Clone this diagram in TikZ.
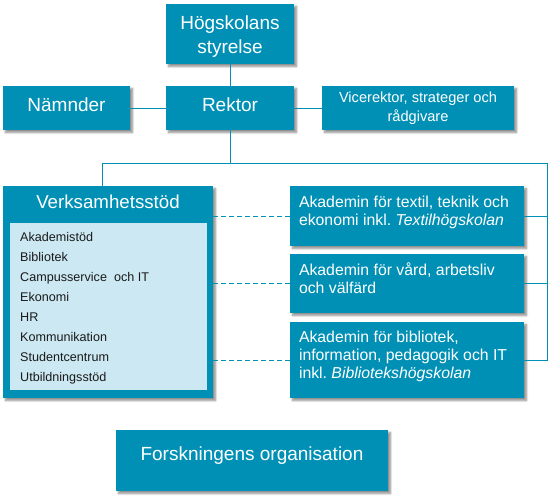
\documentclass[tikz,border=0pt]{standalone}
\usepackage{fontspec}
\setmainfont{Liberation Sans}
\usetikzlibrary{shadows.blur}
\definecolor{tealc}{HTML}{0090B5}
\definecolor{lightb}{HTML}{CCE8F2}
\definecolor{darktext}{HTML}{1A1A1A}
\tikzset{
  box/.style={fill=tealc, draw=none, inner sep=0pt, text=white, align=center,
    blur shadow={shadow xshift=2.5pt, shadow yshift=-2.5pt, shadow blur steps=6, shadow opacity=45}},
  conn/.style={draw=tealc, line width=0.9pt},
  dconn/.style={conn, dash pattern=on 5pt off 3pt},
  bigtxt/.style={font=\fontsize{19}{24}\selectfont},
  midtxt/.style={font=\fontsize{15.8}{18}\selectfont},
  vicetxt/.style={font=\fontsize{14.6}{19}\selectfont},
  itemtxt/.style={font=\fontsize{12.6}{15}\selectfont, text=darktext, inner sep=0pt},
  akatxt/.style={midtxt, text=white, align=left, inner sep=0pt},
  plaintxt/.style={text=white, inner sep=0pt, align=center}
}
\begin{document}
\begin{tikzpicture}[x=1pt,y=-1pt]
\useasboundingbox (0,0) rectangle (556,500);

% top boxes
\node[box, minimum width=128pt, minimum height=60pt] (sty) at (230,34) {};
\node[plaintxt, bigtxt] (styt) at (230,37) {Högskolans\\styrelse};
\node[box, minimum width=127pt, minimum height=44pt] (nam) at (66.5,108) {};
\node[plaintxt, bigtxt, anchor=base] (namt) at (66.5,112) {Nämnder};
\node[box, minimum width=128pt, minimum height=44pt] (rek) at (230,108) {};
\node[plaintxt, bigtxt, anchor=base] (rekt) at (230,112) {Rektor};
\node[box, vicetxt, minimum width=192pt, minimum height=44pt] (vic) at (418,108) {Vicerektor, strateger och\\rådgivare};

% Verksamhetsstöd
\node[box, minimum width=210pt, minimum height=212pt] (verk) at (108,292) {};
\node[fill=lightb, inner sep=0pt, minimum width=197pt, minimum height=167pt] (inner) at (108.5,306.5) {};
\node[anchor=base, text=white, inner sep=0pt, font=\fontsize{18.7}{22}\selectfont] (verkt) at (108,208) {Verksamhetsstöd};
\foreach \t [count=\i] in {Akademistöd, Bibliotek, Campusservice\ \ och IT, Ekonomi, HR, Kommunikation, Studentcentrum, Utbildningsstöd}
  \node[itemtxt, anchor=base west] (it\i) at (20,{221.5+20*\i}) {\t};

% Akademin boxes
\node[box, minimum width=234pt, minimum height=60pt] (a1) at (407,216) {};
\node[box, minimum width=234pt, minimum height=59pt] (a2) at (407,283.5) {};
\node[box, minimum width=234pt, minimum height=76pt] (a3) at (407,360) {};
\node[akatxt, anchor=north west] (a1t) at ([shift={(9pt,-10pt)}]a1.north west) {Akademin för textil,\ teknik och\\ekonomi inkl.\ \textit{Textilhögskolan}};
\node[akatxt, anchor=north west] (a2t) at ([shift={(9pt,-9pt)}]a2.north west) {Akademin för vård, arbetsliv\\och välfärd};
\node[akatxt, anchor=north west] (a3t) at ([shift={(9pt,-9pt)}]a3.north west) {Akademin för bibliotek,\\information,\ pedagogik och IT\\inkl.\ \textit{Bibliotekshögskolan}};

% Forskningens organisation
\node[box, minimum width=272pt, minimum height=61pt] (fo) at (252,460.5) {};
\node[plaintxt, bigtxt, anchor=base] (fot) at (252,460) {Forskningens organisation};

% connectors
\coordinate (hl) at (102,163);
\coordinate (hr) at (547,163);
\draw[conn] (sty.south) -- (rek.north);
\draw[conn] (nam.east) -- (rek.west);
\draw[conn] (rek.east) -- (vic.west);
\draw[conn] (rek.south) -- (rek.south |- hl);
\draw[conn] (hl |- verk.north) -- (hl) -- (hr) -- (hr |- a3.east) -- (a3.east);
\draw[conn] (a1.east) -- (a1.east -| hr);
\draw[conn] (a2.east) -- (a2.east -| hr);
\draw[dconn] (verk.east |- a1.west) -- (a1.west);
\draw[dconn] (verk.east |- a2.west) -- (a2.west);
\draw[dconn] (verk.east |- a3.west) -- (a3.west);
\end{tikzpicture}
\end{document}
